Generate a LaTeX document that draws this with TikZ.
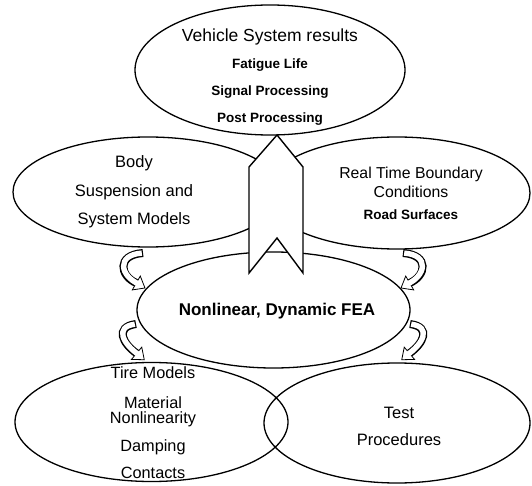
\documentclass[tikz,border=0pt]{standalone}
\usepackage{fontspec}
\setmainfont{Liberation Sans}
\usetikzlibrary{shapes.geometric}
\def\curly#1#2#3#4#5{%
  \draw[line width=8pt] (#1) .. controls #2 and #3 .. (#4);
  \draw[thick,fill=white,shift={(#4)},rotate=#5] (0,-8) -- (10,0) -- (0,8) -- cycle;
  \draw[line width=5.4pt,white,shorten <=1.2pt,shorten >=-3pt] (#1) .. controls #2 and #3 .. (#4);
}

\begin{document}
\begin{tikzpicture}[x=1pt,y=-1pt]
    \tikzstyle{blob}=[ellipse,draw,line width=1.3pt,inner sep=0pt]
    \tikzstyle{txt}=[align=center,inner sep=0pt]
    \tikzstyle{bigarrow}=[line width=1.4pt,line join=miter,fill=white]
    \useasboundingbox (0,0) rectangle (532,486);
    \node[blob,minimum width=270,minimum height=130] (res) at (270,70) {};
    \node[blob,minimum width=270,minimum height=110] (body) at (148,192) {};
    \node[blob,minimum width=266,minimum height=112] (bound) at (397,193) {};
    \node[blob,minimum width=273,minimum height=116] (fea) at (273.5,310) {};
    \node[blob,minimum width=273,minimum height=119] (tire) at (151.5,422) {};
    \node[blob,minimum width=266,minimum height=120] (test) at (397,423) {};
    \draw[bigarrow] (277,135) -- (303,167) -- (303,273) -- (277,238) -- (249,273) -- (249,167) -- cycle;
    \node[txt,font=\bfseries\fontsize{13.5}{27}\selectfont] (restxt) at (270,77)
        {{\mdseries\fontsize{17.5}{27}\selectfont Vehicle System results}\\Fatigue Life\\Signal Processing\\Post Processing};
    \node[txt,font=\fontsize{16.5}{28.5}\selectfont] (bodytxt) at (134,192)
        {Body\\Suspension and\\System Models};
    \node[txt,font=\fontsize{15.8}{19}\selectfont] (boundtxt) at (411,193)
        {Real Time Boundary\\Conditions\\[3pt]{\bfseries\fontsize{13.5}{19}\selectfont Road Surfaces}};
    \node[txt,font=\bfseries\fontsize{17}{20}\selectfont] (featxt) at (277,311)
        {Nonlinear, Dynamic FEA};
    \node[txt,font=\fontsize{16.3}{15}\selectfont] (tiretxt) at (153,422.5)
        {Tire Models\\[15pt]Material\\Nonlinearity\\[12pt]Damping\\[12pt]Contacts};
    \node[txt,font=\fontsize{16.5}{27}\selectfont] (testtxt) at (399,426.5)
        {Test\\Procedures};
    \coordinate (ula) at (143,253);
    \coordinate (ulb) at (136.3,283);
    \coordinate (lla) at (136,324);
    \coordinate (llb) at (136.6,353.3);
    \coordinate (ura) at (403,253);
    \coordinate (urb) at (409.7,283);
    \coordinate (lra) at (410,324);
    \coordinate (lrb) at (409.4,353.3);
    \curly{ula}{(116,255)}{(120,276)}{ulb}{-30}
    \curly{lla}{(114,327)}{(123,344)}{llb}{-40}
    \curly{ura}{(430,255)}{(426,276)}{urb}{210}
    \curly{lra}{(432,327)}{(423,344)}{lrb}{220}
\end{tikzpicture}
\end{document}
